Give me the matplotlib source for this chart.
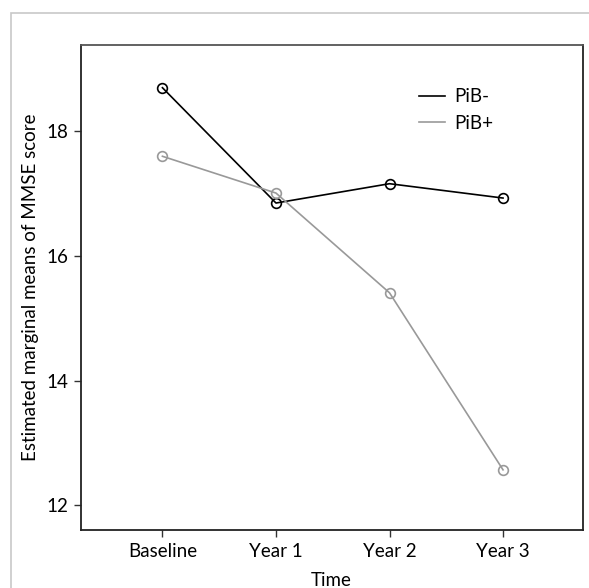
import matplotlib
matplotlib.use("Agg")
import matplotlib.pyplot as plt
from matplotlib.patches import Rectangle

time_labels = ["Baseline", "Year 1", "Year 2", "Year 3"]
pib_neg = [18.70, 16.85, 17.16, 16.93]
pib_pos = [17.60, 17.01, 15.41, 12.57]
y_ticks = [12, 14, 16, 18]

plt.rcParams['font.family'] = ['Lato', 'DejaVu Sans']

W, H = 589, 588
fig = plt.figure(figsize=(W / 100, H / 100), dpi=100)

# outer light frame
fig.patches.append(Rectangle((10.5 / W, -0.1), 1.2, 1.1 - 13 / H,
                             transform=fig.transFigure, fill=False,
                             edgecolor="#c8c8c8", linewidth=1.2))

left, right, top, bottom = 80.7, 582.5, 44.7, 530.3
ax = fig.add_axes([left / W, 1 - bottom / H, (right - left) / W, (bottom - top) / H])

x = list(range(len(time_labels)))
ax.plot(x, pib_neg, color="black", linewidth=1.2, marker="o", markersize=7,
        markerfacecolor="none", markeredgewidth=1.2, label="PiB-")
ax.plot(x, pib_pos, color="#999999", linewidth=1.2, marker="o", markersize=7,
        markerfacecolor="none", markeredgewidth=1.2, label="PiB+")

ax.set_xlim(-0.72, 3.70)
ax.set_ylim(11.6, 19.39)
ax.set_xticks(x)
ax.set_xticklabels(time_labels, fontsize=13.5)
ax.set_yticks(y_ticks)
ax.set_yticklabels([str(v) for v in y_ticks], fontsize=13.5)
ax.tick_params(direction="out", length=5, width=1.0, color="#333333", pad=4)
for s in ax.spines.values():
    s.set_linewidth(1.3)
    s.set_color("#222222")
ax.spines["top"].set_color("#555555")

ax.set_xlabel("Time", fontsize=13.5, labelpad=9)
ax.set_ylabel("Estimated marginal means of MMSE score", fontsize=13.5, labelpad=5)

leg = ax.legend(loc="upper left", bbox_to_anchor=(0.64, 0.945), frameon=False,
                fontsize=13.5, handlelength=1.4, handletextpad=0.5, labelspacing=0.5)
for h in leg.legend_handles:
    h.set_marker("")

fig.savefig("out.png", dpi=100)
